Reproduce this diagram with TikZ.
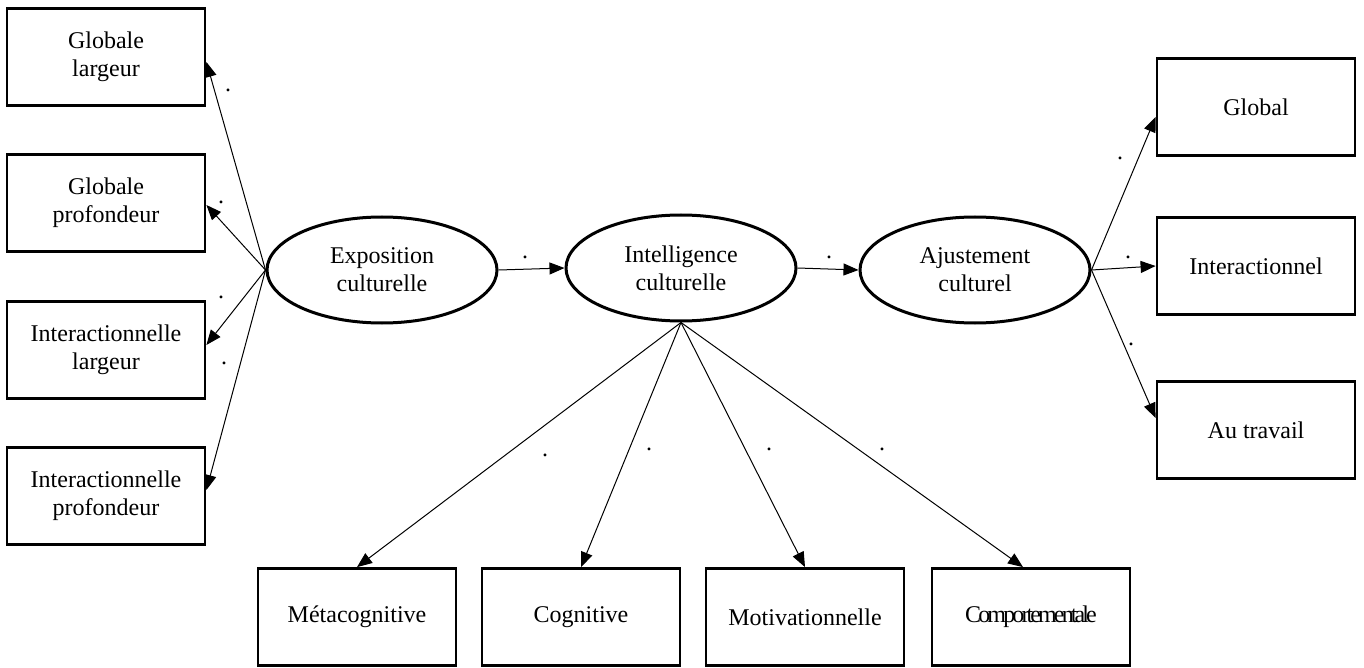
\documentclass[tikz,border=0pt]{standalone}
\usepackage{fontspec}
\setmainfont{Liberation Serif}
\usetikzlibrary{shapes.geometric,arrows.meta}
\tikzset{
  box/.style={draw, line width=2.8pt, rectangle, minimum width=198pt, minimum height=97pt, inner sep=0pt, align=center, font=\fontsize{24}{28}\selectfont},
  latent/.style={draw, line width=3pt, ellipse, minimum width=230pt, minimum height=106pt, inner sep=0pt, align=center, font=\fontsize{24}{28}\selectfont},
  conn/.style={line width=1pt, -{Triangle[length=15pt,width=12pt]}},
  dotlab/.style={inner sep=0pt, font=\fontsize{24}{28}\selectfont}
}
\begin{document}
\begin{tikzpicture}[x=1pt,y=-1pt]
\useasboundingbox (0,0) rectangle (1364,668);
% left boxes
\node[box] (gl) at (106,57) {Globale\\largeur};
\node[box] (gp) at (106,203) {Globale\\profondeur};
\node[box] (il) at (106,350) {Interactionnelle\\largeur};
\node[box] (ip) at (106,496) {Interactionnelle\\profondeur};
% ellipses
\node[latent] (expo) at (382,270) {Exposition\\culturelle};
\node[latent] (intel) at (681,268) {Intelligence\\culturelle};
\node[latent] (ajust) at (975,270) {Ajustement\\culturel};
% right boxes
\node[box] (glob) at (1256,107) {Global};
\node[box] (inter) at (1256,266) {Interactionnel};
\node[box] (trav) at (1256,430) {Au travail};
% bottom boxes
\node[box] (meta) at (357,617) {Métacognitive};
\node[box] (cogn) at (581,617) {Cognitive};
\node[box] (moti) at (805,617) {Motivationnelle};
\node[box] (comp) at (1031,617) {\addfontfeature{LetterSpace=-12}Comportementale};
% connectors
\draw[conn] (expo.west) -- ([yshift=-5pt]gl.east);
\draw[conn] (expo.west) -- ([yshift=-2pt]gp.east);
\draw[conn] (expo.west) -- ([yshift=5pt]il.east);
\draw[conn] (expo.west) -- ([yshift=6pt]ip.east);
\draw[conn] (expo.east) -- (intel.west);
\draw[conn] (intel.east) -- (ajust.west);
\draw[conn] (ajust.east) -- ([yshift=-10pt]glob.west);
\draw[conn] (ajust.east) -- (inter.west);
\draw[conn] (ajust.east) -- ([yshift=12pt]trav.west);
\draw[conn] (intel.south) -- (meta.north);
\draw[conn] (intel.south) -- (cogn.north);
\draw[conn] (intel.south) -- (moti.north);
\draw[conn] (intel.south) -- ([xshift=-8pt]comp.north);
% dots
\node[dotlab] (d1) at (228,90) {.};
\node[dotlab] (d2) at (221,202) {.};
\node[dotlab] (d3) at (221,297) {.};
\node[dotlab] (d4) at (224,363) {.};
\node[dotlab] (d5) at (525,257) {.};
\node[dotlab] (d6) at (829,257) {.};
\node[dotlab] (d7) at (545,455) {.};
\node[dotlab] (d8) at (649,449) {.};
\node[dotlab] (d9) at (769,449) {.};
\node[dotlab] (d10) at (882,449) {.};
\node[dotlab] (d11) at (1120,158) {.};
\node[dotlab] (d12) at (1128,257) {.};
\node[dotlab] (d13) at (1131,344) {.};
\end{tikzpicture}
\end{document}
